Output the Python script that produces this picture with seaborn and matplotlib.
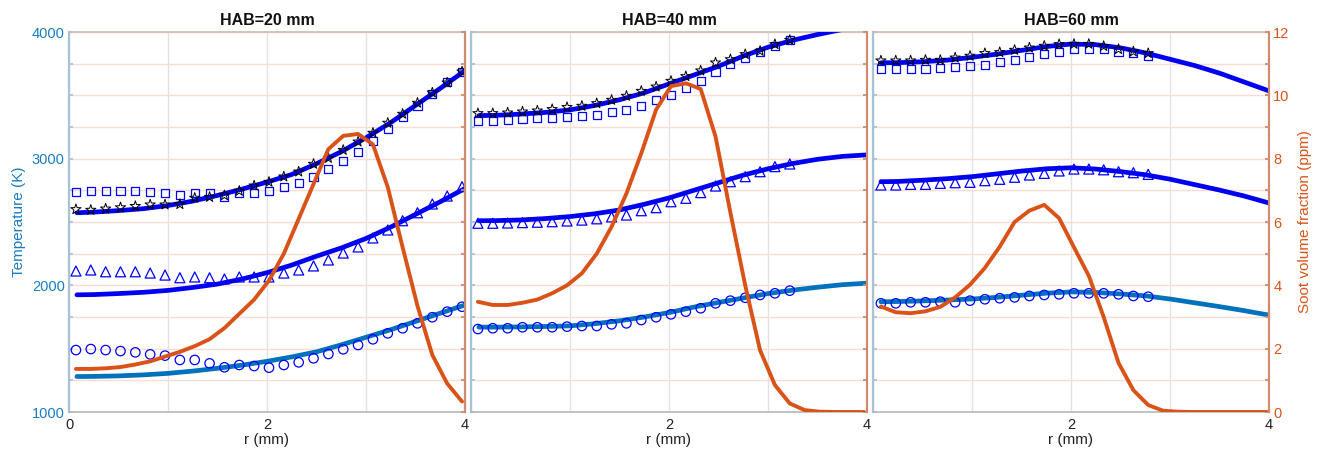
import numpy as np
import pandas as pd
import matplotlib
matplotlib.use("Agg")
import matplotlib.pyplot as plt
from matplotlib.ticker import MultipleLocator, FuncFormatter
import seaborn as sns

# ---------------- data ----------------
titles = ["HAB=20 mm", "HAB=40 mm", "HAB=60 mm"]

# model curves (temperature, K) on a common radial grid
r_model = [0.08, 0.25, 0.5, 0.75, 1.0, 1.25, 1.5, 1.75, 2.0, 2.25, 2.5, 2.75, 3.0, 3.25, 3.5, 3.75, 4.0]
t_top_20 = [2573, 2578, 2590, 2605, 2630, 2665, 2710, 2760, 2815, 2875, 2960, 3055, 3165, 3285, 3420, 3555, 3695]
t_mid_20 = [1925, 1927, 1935, 1945, 1960, 1983, 2010, 2050, 2100, 2160, 2230, 2295, 2370, 2460, 2560, 2660, 2765]
t_low_20 = [1280, 1281, 1285, 1293, 1305, 1323, 1345, 1370, 1400, 1435, 1475, 1530, 1590, 1650, 1715, 1780, 1845]

t_top_40 = [3340, 3342, 3352, 3365, 3385, 3420, 3465, 3520, 3590, 3660, 3730, 3810, 3880, 3935, 3980, 4020, 4050]
t_mid_40 = [2510, 2511, 2516, 2527, 2543, 2565, 2595, 2640, 2690, 2750, 2810, 2870, 2920, 2962, 2995, 3018, 3030]
t_low_40 = [1670, 1670, 1672, 1675, 1680, 1697, 1720, 1750, 1785, 1828, 1865, 1900, 1935, 1962, 1985, 2005, 2017]

t_top_60 = [3757, 3758, 3765, 3778, 3800, 3825, 3855, 3885, 3905, 3900, 3875, 3835, 3785, 3735, 3675, 3605, 3535]
t_mid_60 = [2818, 2820, 2830, 2842, 2858, 2880, 2902, 2920, 2928, 2918, 2898, 2873, 2838, 2795, 2752, 2705, 2650]
t_low_60 = [1870, 1872, 1877, 1884, 1892, 1905, 1922, 1938, 1948, 1944, 1932, 1917, 1892, 1862, 1832, 1800, 1765]

# measured points (temperature, K)
r_meas_20 = [0.07, 0.22, 0.37, 0.52, 0.67, 0.82, 0.97, 1.12, 1.27, 1.42, 1.57, 1.72, 1.87, 2.02,
             2.17, 2.32, 2.47, 2.62, 2.77, 2.92, 3.07, 3.22, 3.37, 3.52, 3.67, 3.82, 3.97]
star_20 = [2600, 2595, 2605, 2615, 2625, 2637, 2637, 2640, 2690, 2697, 2710, 2745, 2787, 2816,
           2858, 2897, 2958, 3005, 3068, 3134, 3203, 3282, 3353, 3440, 3521, 3600, 3687]
square_20 = [2740, 2745, 2745, 2745, 2745, 2740, 2730, 2715, 2730, 2728, 2700, 2729, 2729, 2745,
             2776, 2808, 2855, 2918, 2982, 3053, 3140, 3234, 3329, 3416, 3511, 3605, 3684]
tri_20 = [2113, 2121, 2107, 2107, 2107, 2097, 2081, 2060, 2066, 2060, 2050, 2066, 2066, 2066,
          2097, 2121, 2153, 2200, 2255, 2303, 2374, 2437, 2510, 2573, 2642, 2705, 2779]
circ_20 = [1489, 1497, 1489, 1481, 1471, 1455, 1445, 1411, 1411, 1384, 1353, 1371, 1363, 1350,
           1371, 1392, 1424, 1458, 1495, 1529, 1574, 1621, 1661, 1700, 1748, 1792, 1831]

r_meas_40 = [0.07, 0.22, 0.37, 0.52, 0.67, 0.82, 0.97, 1.12, 1.27, 1.42, 1.57, 1.72, 1.87, 2.02,
             2.17, 2.32, 2.47, 2.62, 2.77, 2.92, 3.07, 3.22]
star_40 = [3358, 3358, 3363, 3371, 3379, 3390, 3406, 3416, 3437, 3463, 3495, 3534, 3568, 3613,
           3650, 3695, 3758, 3784, 3824, 3850, 3903, 3937]
square_40 = [3300, 3300, 3305, 3313, 3318, 3318, 3331, 3339, 3345, 3371, 3384, 3416, 3463, 3503,
             3555, 3613, 3682, 3745, 3797, 3840, 3890, 3937]
tri_40 = [2490, 2490, 2492, 2495, 2498, 2502, 2508, 2515, 2525, 2540, 2555, 2589, 2613, 2660,
          2687, 2732, 2784, 2818, 2858, 2897, 2937, 2958]
circ_40 = [1655, 1661, 1661, 1669, 1669, 1669, 1674, 1679, 1679, 1692, 1700, 1726, 1748, 1771,
           1792, 1819, 1858, 1879, 1902, 1924, 1937, 1958]

r_meas_60 = [0.08, 0.23, 0.38, 0.53, 0.68, 0.83, 0.98, 1.13, 1.28, 1.43, 1.58, 1.73, 1.88, 2.03,
             2.18, 2.33, 2.48, 2.63, 2.78]
star_60 = [3774, 3774, 3774, 3779, 3779, 3797, 3811, 3832, 3840, 3858, 3876, 3890, 3903, 3905,
           3905, 3888, 3864, 3845, 3832]
square_60 = [3705, 3705, 3708, 3708, 3713, 3721, 3734, 3740, 3761, 3779, 3805, 3824, 3845, 3864,
             3866, 3868, 3845, 3832, 3811]
tri_60 = [2792, 2792, 2797, 2797, 2805, 2810, 2813, 2826, 2837, 2853, 2871, 2884, 2903, 2918,
          2918, 2912, 2897, 2889, 2876]
circ_60 = [1858, 1858, 1866, 1866, 1871, 1866, 1879, 1890, 1898, 1905, 1916, 1924, 1929, 1937,
           1937, 1937, 1929, 1916, 1910]

# soot volume fraction (ppm)
r_soot_20 = [0.07, 0.22, 0.37, 0.52, 0.67, 0.82, 0.97, 1.12, 1.27, 1.42, 1.57, 1.72, 1.87, 2.02,
             2.17, 2.32, 2.47, 2.62, 2.77, 2.92, 3.07, 3.22, 3.37, 3.52, 3.67, 3.82, 3.97]
fv_20 = [1.36, 1.36, 1.38, 1.42, 1.50, 1.60, 1.75, 1.90, 2.08, 2.30, 2.65, 3.10, 3.55, 4.15,
         5.00, 6.10, 7.20, 8.30, 8.72, 8.78, 8.45, 7.10, 5.20, 3.35, 1.80, 0.90, 0.33]
r_soot_40 = [0.07, 0.22, 0.37, 0.52, 0.67, 0.82, 0.97, 1.12, 1.27, 1.42, 1.57, 1.72, 1.87, 2.02,
             2.17, 2.32, 2.47, 2.62, 2.77, 2.92, 3.07, 3.22, 3.37, 3.52, 3.67, 3.82, 3.97]
fv_40 = [3.48, 3.38, 3.38, 3.45, 3.55, 3.75, 4.00, 4.38, 5.00, 5.85, 6.90, 8.17, 9.55, 10.29,
         10.38, 10.20, 8.70, 6.30, 4.00, 1.95, 0.85, 0.27, 0.06, 0.01, 0.0, 0.0, 0.0]
r_soot_60 = [0.08, 0.23, 0.38, 0.53, 0.68, 0.83, 0.98, 1.13, 1.28, 1.43, 1.58, 1.73, 1.88, 2.03,
             2.18, 2.33, 2.48, 2.63, 2.78, 2.93, 3.08, 3.23, 3.38, 3.53, 3.68, 3.83, 3.98]
fv_60 = [3.33, 3.15, 3.12, 3.18, 3.32, 3.62, 4.02, 4.55, 5.22, 6.00, 6.36, 6.54, 6.12, 5.20,
         4.30, 3.00, 1.55, 0.69, 0.22, 0.04, 0.01, 0.0, 0.0, 0.0, 0.0, 0.0, 0.0]

panels = [
    dict(top=t_top_20, mid=t_mid_20, low=t_low_20, r=r_meas_20, star=star_20, sq=square_20,
         tri=tri_20, circ=circ_20, rs=r_soot_20, fv=fv_20),
    dict(top=t_top_40, mid=t_mid_40, low=t_low_40, r=r_meas_40, star=star_40, sq=square_40,
         tri=tri_40, circ=circ_40, rs=r_soot_40, fv=fv_40),
    dict(top=t_top_60, mid=t_mid_60, low=t_low_60, r=r_meas_60, star=star_60, sq=square_60,
         tri=tri_60, circ=circ_60, rs=r_soot_60, fv=fv_60),
]

# ---------------- style ----------------
sns.set_theme(style="white")
plt.rcParams["font.family"] = ["Liberation Sans", "DejaVu Sans"]

BLUE = "#0000F0"
MBLUE = "#0072BD"
ORANGE = "#D95319"
LEFT_SPINE = "#a9c3d6"
RIGHT_SPINE = "#cf8b6e"
TICK_L = "#1a7cc1"

fig = plt.figure(figsize=(13.19, 4.53), dpi=100)
W, H = 1319.0, 453.0
lefts = [69, 471, 873]
pw = 396

for k, p in enumerate(panels):
    ax = fig.add_axes([lefts[k] / W, 41 / H, pw / W, 380 / H])
    ax2 = ax.twinx()

    lw_b = 3.4
    sns.lineplot(x=r_model, y=p["top"], ax=ax, color=BLUE, lw=lw_b, sort=False, estimator=None, zorder=3)
    sns.lineplot(x=r_model, y=p["mid"], ax=ax, color=BLUE, lw=lw_b, sort=False, estimator=None, zorder=3)
    sns.lineplot(x=r_model, y=p["low"], ax=ax, color=MBLUE, lw=lw_b, sort=False, estimator=None, zorder=3)

    sns.scatterplot(x=p["r"], y=p["sq"], ax=ax, marker="s", s=34, facecolors="none",
                    edgecolor="#0000FF", linewidth=0.9, zorder=4)
    sns.scatterplot(x=p["r"], y=p["star"], ax=ax, marker="*", s=60, facecolors="none",
                    edgecolor="black", linewidth=0.7, zorder=5)
    sns.scatterplot(x=p["r"], y=p["tri"], ax=ax, marker="^", s=52, facecolors="none",
                    edgecolor="#0000FF", linewidth=0.9, zorder=4)
    sns.scatterplot(x=p["r"], y=p["circ"], ax=ax, marker="o", s=46, facecolors="none",
                    edgecolor="#0000FF", linewidth=0.9, zorder=4)

    sns.lineplot(x=p["rs"], y=p["fv"], ax=ax2, color=ORANGE, lw=2.8, sort=False, estimator=None)

    ax.set_xlim(0, 4)
    ax.set_ylim(1000, 4000)
    ax2.set_ylim(0, 12)

    ax.xaxis.set_major_locator(MultipleLocator(1))
    if k == 0:
        ax.xaxis.set_major_formatter(FuncFormatter(lambda v, pos: f"{v:.0f}" if round(v) % 2 == 0 else ""))
    else:
        ax.xaxis.set_major_formatter(FuncFormatter(lambda v, pos: f"{v:.0f}" if (round(v) % 2 == 0 and round(v) != 0) else ""))
    ax.yaxis.set_major_locator(MultipleLocator(250))
    ax.yaxis.set_major_formatter(FuncFormatter(lambda v, pos: f"{v:.0f}" if round(v) % 1000 == 0 else ""))
    ax2.yaxis.set_major_locator(MultipleLocator(1))
    ax2.yaxis.set_major_formatter(FuncFormatter(lambda v, pos: f"{v:.0f}" if round(v) % 2 == 0 else ""))

    ax.grid(axis="y", color="#f9ddd2", lw=1.0)
    ax.grid(axis="x", color="#e2e2e2", lw=1.0)
    ax.set_axisbelow(True)
    ax2.grid(False)

    ax.tick_params(axis="x", direction="in", length=3, colors="#b0b0b0", labelcolor="#222222",
                   labelsize=10.5, pad=4)
    ax.tick_params(axis="y", direction="in", length=3, colors=LEFT_SPINE, labelcolor=TICK_L,
                   labelsize=10.5, pad=3, labelleft=(k == 0))
    ax2.tick_params(axis="y", direction="in", length=3, colors=RIGHT_SPINE, labelcolor=ORANGE,
                    labelsize=10.5, pad=3, labelright=(k == 2))

    for sp in ax2.spines.values():
        sp.set_visible(False)
    ax2.spines["right"].set_visible(True)
    ax2.spines["right"].set_color(RIGHT_SPINE)
    ax2.spines["right"].set_linewidth(1.6)
    ax.spines["left"].set_color(LEFT_SPINE)
    ax.spines["left"].set_linewidth(1.6)
    ax.spines["right"].set_visible(False)
    ax.spines["top"].set_color("#c9bcb4")
    ax.spines["top"].set_linewidth(1.2)
    ax.spines["bottom"].set_color("#b8b8b8")
    ax.spines["bottom"].set_linewidth(1.2)

    ax.set_title(titles[k], fontsize=11.5, fontweight="bold", color="#111111", pad=5)
    ax.set_xlabel("r (mm)", fontsize=11, color="#222222", labelpad=1)
    ax.set_ylabel("Temperature (K)" if k == 0 else "", fontsize=11, color=TICK_L, labelpad=4)
    ax2.set_ylabel("Soot volume fraction (ppm)" if k == 2 else "", fontsize=11, color=ORANGE, labelpad=6)

fig.savefig("out.png", dpi=100)
